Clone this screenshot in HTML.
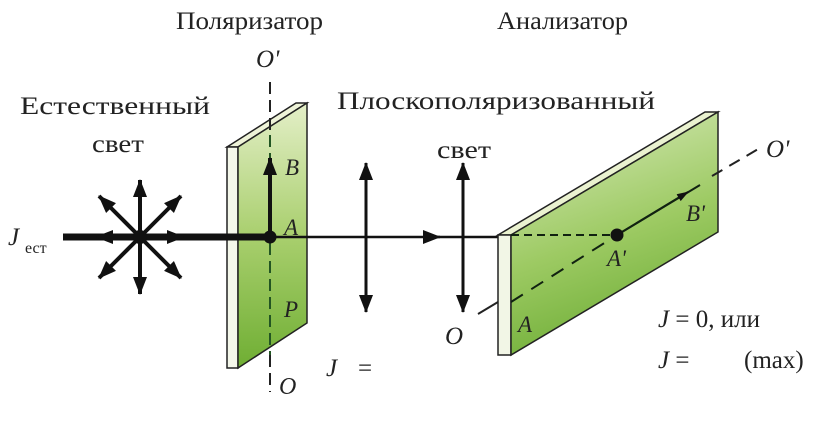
<!DOCTYPE html>
<html><head><meta charset="utf-8"><style>
html,body{margin:0;padding:0;background:#fff;width:825px;height:423px;overflow:hidden}
svg{display:block}
text{font-family:"Liberation Serif","DejaVu Serif",serif;fill:#222}
.i{font-style:italic}
</style></head><body>
<svg width="825" height="423" viewBox="0 0 825 423">
<defs>
<linearGradient id="g1" x1="0" y1="0" x2="0" y2="1">
<stop offset="0" stop-color="#e4efc8"/><stop offset="0.5" stop-color="#a9cf6e"/><stop offset="1" stop-color="#6fae33"/>
</linearGradient>
<linearGradient id="g2" x1="0" y1="0" x2="0.3" y2="1">
<stop offset="0" stop-color="#dcecc0"/><stop offset="0.6" stop-color="#9dca63"/><stop offset="1" stop-color="#72b03a"/>
</linearGradient>
<marker id="ah" markerWidth="12" markerHeight="8" refX="11" refY="4" orient="auto" markerUnits="userSpaceOnUse">
<path d="M0,0 L12,4 L0,8 z" fill="#111"/></marker>
<marker id="ahb" markerWidth="18" markerHeight="14" refX="17" refY="7" orient="auto" markerUnits="userSpaceOnUse">
<path d="M0,0 L18,7 L0,14 z" fill="#111"/></marker>
</defs>

<!-- titles -->
<text x="176" y="29" font-size="25" textLength="147" lengthAdjust="spacingAndGlyphs">Поляризатор</text>
<text x="497" y="29" font-size="25" textLength="131" lengthAdjust="spacingAndGlyphs">Анализатор</text>
<text x="20" y="114" font-size="25" textLength="190" lengthAdjust="spacingAndGlyphs">Естественный</text>
<text x="92" y="152" font-size="25" textLength="52" lengthAdjust="spacingAndGlyphs">свет</text>
<text x="337" y="109" font-size="25" textLength="318" lengthAdjust="spacingAndGlyphs">Плоскополяризованный</text>
<text x="437" y="158" font-size="25" textLength="54" lengthAdjust="spacingAndGlyphs">свет</text>

<!-- polarizer -->
<polygon points="227,147 296,103 307,103 238,147" fill="#eef3d8" stroke="#222" stroke-width="1.5"/>
<polygon points="227,147 238,147 238,368 227,368" fill="#f4f7ea" stroke="#222" stroke-width="1.5"/>
<polygon points="238,147 307,103 307,323 238,368" fill="url(#g1)" stroke="#222" stroke-width="1.5"/>
<line x1="270" y1="82" x2="270" y2="135" stroke="#222" stroke-width="2" stroke-dasharray="12,6"/>
<line x1="270" y1="135" x2="270" y2="355" stroke="#225522" stroke-width="2" stroke-dasharray="12,6"/>
<line x1="270" y1="355" x2="270" y2="392" stroke="#222" stroke-width="2" stroke-dasharray="12,6"/>

<!-- beam -->
<line x1="63" y1="237" x2="270" y2="237" stroke="#111" stroke-width="7"/>
<line x1="270" y1="237" x2="440" y2="237" stroke="#111" stroke-width="2.5" marker-end="url(#ahb)"/>
<line x1="436" y1="237" x2="500" y2="237" stroke="#111" stroke-width="2.5"/>
<!-- star -->
<g stroke="#111" stroke-width="4">
<line x1="140" y1="237" x2="140" y2="180" marker-end="url(#ahb)"/>
<line x1="140" y1="237" x2="140" y2="294" marker-end="url(#ahb)"/>
<line x1="140" y1="237" x2="96" y2="237" marker-end="url(#ahb)"/>
<line x1="140" y1="237" x2="184" y2="237" marker-end="url(#ahb)"/>
<line x1="140" y1="237" x2="99" y2="196" marker-end="url(#ahb)"/>
<line x1="140" y1="237" x2="181" y2="196" marker-end="url(#ahb)"/>
<line x1="140" y1="237" x2="99" y2="278" marker-end="url(#ahb)"/>
<line x1="140" y1="237" x2="181" y2="278" marker-end="url(#ahb)"/>
</g>
<circle cx="140" cy="237" r="7" fill="#111"/>
<line x1="270" y1="237" x2="270" y2="158" stroke="#111" stroke-width="4" marker-end="url(#ahb)"/>
<circle cx="270" cy="237" r="6.5" fill="#111"/>

<!-- double arrows -->
<line x1="366" y1="237" x2="366" y2="163" stroke="#111" stroke-width="3" marker-end="url(#ahb)"/>
<line x1="366" y1="237" x2="366" y2="312" stroke="#111" stroke-width="3" marker-end="url(#ahb)"/>
<line x1="463" y1="237" x2="463" y2="163" stroke="#111" stroke-width="3" marker-end="url(#ahb)"/>
<line x1="463" y1="237" x2="463" y2="312" stroke="#111" stroke-width="3" marker-end="url(#ahb)"/>

<!-- analyzer -->
<line x1="478" y1="314" x2="498" y2="302" stroke="#222" stroke-width="2"/>
<polygon points="498,235 705,112 718,112 511,235" fill="#eaf2d0" stroke="#222" stroke-width="1.5"/>
<polygon points="498,235 511,235 511,355 498,355" fill="#f2f6e6" stroke="#222" stroke-width="1.5"/>
<polygon points="511,235 718,112 718,232 511,355" fill="url(#g2)" stroke="#222" stroke-width="1.5"/>
<line x1="511" y1="235" x2="617" y2="235" stroke="#112211" stroke-width="2" stroke-dasharray="8,5"/>
<line x1="511" y1="302" x2="617" y2="235" stroke="#112211" stroke-width="2" stroke-dasharray="14,10"/>
<line x1="617" y1="235" x2="700" y2="185" stroke="#112211" stroke-width="2"/>
<line x1="617" y1="235" x2="688" y2="192" stroke="#112211" stroke-width="2" marker-end="url(#ah)"/>
<circle cx="617" cy="235" r="6.5" fill="#111"/>
<line x1="712" y1="176" x2="760" y2="148" stroke="#222" stroke-width="2" stroke-dasharray="12,8"/>

<!-- labels -->
<text class="i" x="256" y="67" font-size="25">O'</text>
<text class="i" x="285" y="175" font-size="23">B</text>
<text class="i" x="284" y="235" font-size="23">A</text>
<text class="i" x="284" y="317" font-size="23">P</text>
<text class="i" x="279" y="394" font-size="24">O</text>
<text class="i" x="326" y="376" font-size="25">J</text>
<text x="358" y="376" font-size="25">=</text>
<text class="i" x="8" y="245" font-size="25">J</text>
<text x="25" y="253" font-size="16">ест</text>
<text class="i" x="766" y="157" font-size="25">O'</text>
<text class="i" x="686" y="221" font-size="23">B'</text>
<text class="i" x="607" y="266" font-size="23">A'</text>
<text class="i" x="518" y="332" font-size="23">A</text>
<text class="i" x="445" y="344" font-size="25">O</text>
<text x="658" y="327" font-size="25"><tspan class="i">J</tspan> = 0,  или</text>
<text x="658" y="368" font-size="25"><tspan class="i">J</tspan> =</text>
<text x="744" y="368" font-size="25">(max)</text>
</svg>
</body></html>
